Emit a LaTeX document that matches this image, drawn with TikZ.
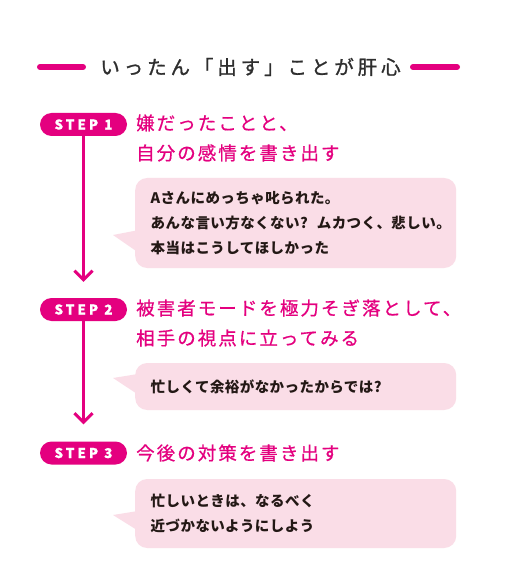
\documentclass[tikz,border=0pt]{standalone}
\usepackage{fontspec}
\usetikzlibrary{arrows.meta}
\definecolor{stepmag}{HTML}{E4007F}
\definecolor{bubpink}{HTML}{FADDE7}
\definecolor{titlegray}{HTML}{2E2E2E}
\definecolor{bodyink}{HTML}{231815}
\setmainfont{Noto Sans CJK JP}
\newfontfamily\jphead{Noto Sans CJK JP}[LetterSpace=11, FakeBold=0.6]
\newfontfamily\jptitle{Noto Sans CJK JP}[LetterSpace=20, FakeBold=1.2]
\newfontfamily\jpbody{Noto Sans CJK JP}[LetterSpace=3]
\newfontfamily\steplabel{Noto Sans CJK JP}[LetterSpace=22, FakeBold=0.8]
\begin{document}
\begin{tikzpicture}[x=1pt, y=-1pt,
  steppill/.style={fill=stepmag, text=white, rounded corners=11.5pt, minimum width=87pt,
    minimum height=23pt, inner sep=0pt, font=\steplabel\bfseries\fontsize{13.5pt}{14pt}\selectfont},
  stephead/.style={anchor=west, text=stepmag, align=left, inner sep=0pt,
    font=\jphead\fontsize{18.5pt}{30pt}\selectfont},
  bubble/.style={fill=bubpink, rounded corners=12pt, text=bodyink, align=left, anchor=west,
    text width=290pt, inner xsep=15.5pt, inner ysep=0pt,
    font=\jpbody\bfseries\fontsize{14.5pt}{25pt}\selectfont},
  bubtail/.style={fill=bubpink},
  steparrow/.style={draw=stepmag, line width=3pt, -{Straight Barb[length=9pt, width=18pt]}},
  titlebar/.style={draw=stepmag, line width=6pt, line cap=round}]
\useasboundingbox[fill=white] (0,0) rectangle (520,585);
% title
\node[text=titlegray, font=\jptitle\fontsize{19.5pt}{20pt}\selectfont] (title) at (250.5,67) {いったん「出す」ことが肝心};
\draw[titlebar] (40,67) -- (83,67);
\draw[titlebar] (413,67) -- (457,67);
% steps
\node[steppill] (step1) at (83.5,124.5) {STEP 1};
\node[steppill] (step2) at (83.5,309.5) {STEP 2};
\node[steppill] (step3) at (83.5,453) {STEP 3};
\node[stephead] (head1) at (136,138) {嫌だったことと、\\自分の感情を書き出す};
\node[stephead] (head2) at (136,323) {被害者モードを極力そぎ落として、\\相手の視点に立ってみる};
\node[stephead] (head3) at (136,453) {今後の対策を書き出す};
\draw[steparrow, shorten >=16pt] (step1) -- (step2);
\draw[steparrow, shorten >=17pt] (step2) -- (step3);
% bubbles
\node[bubble, minimum height=90pt] (bub1) at (135,223) {Aさんにめっちゃ叱られた。\\\mbox{あんな言い方なくない?\kern9pt ムカつく、悲しい。}\\本当はこうしてほしかった};
\fill[bubtail] ([shift={(-22,12)}]bub1.west) -- ([shift={(4,7)}]bub1.west) -- ([shift={(4,30)}]bub1.west) -- cycle;
\node[bubble, minimum height=47pt] (bub2) at (135,386.5) {忙しくて余裕がなかったからでは?};
\fill[bubtail] ([shift={(-22,-8.5)}]bub2.west) -- ([shift={(6,-13)}]bub2.west) -- ([shift={(6,10)}]bub2.west) -- cycle;
\node[bubble, minimum height=69pt] (bub3) at (135,513.5) {忙しいときは、なるべく\\近づかないようにしよう};
\fill[bubtail] ([shift={(-22,1.5)}]bub3.west) -- ([shift={(6,-3)}]bub3.west) -- ([shift={(6,19)}]bub3.west) -- cycle;
\end{tikzpicture}
\end{document}
